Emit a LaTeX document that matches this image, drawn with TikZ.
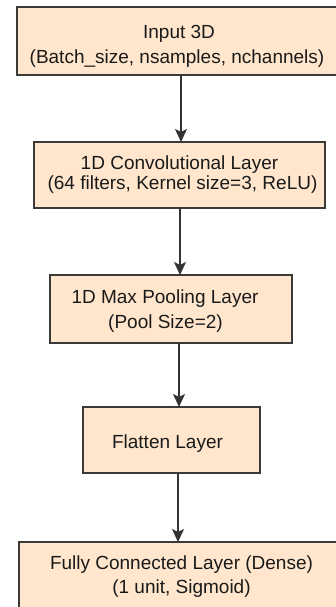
\documentclass[tikz,border=0pt]{standalone}
\usepackage{fontspec}
\setmainfont{Liberation Sans}
\usetikzlibrary{arrows.meta}
\definecolor{boxfill}{HTML}{FFE6CC}
\definecolor{boxline}{HTML}{3A3A3A}
\definecolor{arrline}{HTML}{333333}
\definecolor{txtcol}{HTML}{1A1A1A}
\begin{document}
\begin{tikzpicture}[x=1pt,y=-1pt,
  box/.style={draw=boxline, fill=boxfill, line width=1.3pt, inner sep=0pt, outer sep=0pt},
  txt/.style={anchor=base, inner sep=0pt, font=\fontsize{19}{23}\selectfont, text=txtcol},
  arr/.style={draw=arrline, line width=1.3pt, -{Stealth[length=13pt,width=12pt,inset=3pt]}}]
\useasboundingbox (0,0) rectangle (336,607);
\clip (0,0) rectangle (336,607);
% boxes
\node[box, minimum width=328pt, minimum height=68pt] (b1) at (181,41) {};
\node[box, minimum width=291pt, minimum height=66pt] (b2) at (179.5,175) {};
\node[box, minimum width=242pt, minimum height=68pt] (b3) at (171,309) {};
\node[box, minimum width=177pt, minimum height=66pt] (b4) at (171.5,440) {};
\node[box, minimum width=324pt, minimum height=68pt] (b5) at (181,576) {};
% texts
\node[txt] (t1a) at (179,39) {Input 3D};
\node[txt] (t1b) at (177,64) {(Batch\_size, nsamples, nchannels)};
\node[txt] (t2a) at (179.5,169) {1D Convolutional Layer};
\node[txt] (t2b) at (182.5,189) {(64 filters, Kernel size=3, ReLU)};
\node[txt] (t3a) at (165,303) {1D Max Pooling Layer};
\node[txt] (t3b) at (165.5,328) {(Pool Size=2)};
\node[txt] (t4) at (167.5,448) {Flatten Layer};
\node[txt] (t5a) at (181.5,569) {Fully Connected Layer (Dense)};
\node[txt] (t5b) at (181.5,593) {(1 unit, Sigmoid)};
% arrow columns
\coordinate (ax1) at (181,0);
\coordinate (ax2) at (180,0);
\coordinate (ax3) at (179,0);
\coordinate (ax4) at (178,0);
% connectors
\draw[arr] (b1.south -| ax1) -- (b2.north -| ax1);
\draw[arr] (b2.south -| ax2) -- (b3.north -| ax2);
\draw[arr] (b3.south -| ax3) -- (b4.north -| ax3);
\draw[arr] (b4.south -| ax4) -- (b5.north -| ax4);
\end{tikzpicture}
\end{document}
